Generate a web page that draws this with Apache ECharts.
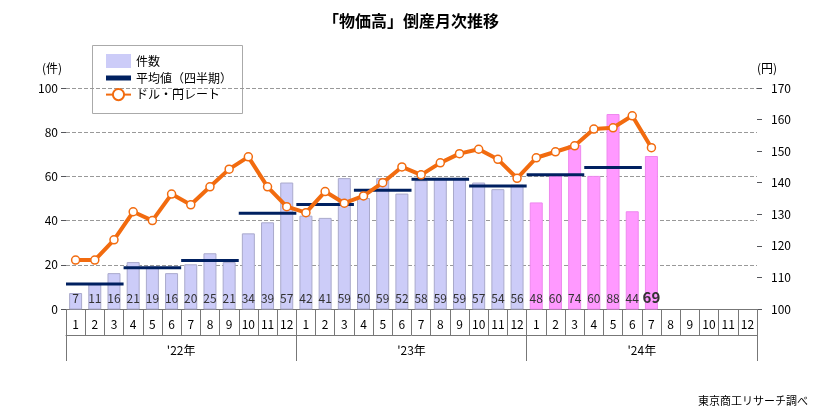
<!DOCTYPE html><html><head><meta charset="utf-8"><script src="https://cdn.jsdelivr.net/npm/echarts@6/dist/echarts.min.js"></script></head><body style="margin:0"><div id="c" style="width:822px;height:416px"></div><script>
const months=['1','2','3','4','5','6','7','8','9','10','11','12','1','2','3','4','5','6','7','8','9','10','11','12','1','2','3','4','5','6','7','8','9','10','11','12'];
const years=["'22年","'23年","'24年"];
const counts=[7,11,16,21,19,16,20,25,21,34,39,57,42,41,59,50,59,52,58,59,59,57,54,56,48,60,74,60,88,44,69];
const yen=[115.5,115.5,121.9,130.8,128,136.4,133,138.7,144.3,148.2,138.7,132.4,130.5,137.2,133.5,135.8,140,145,142.5,146.3,149.2,150.6,147.4,141.4,147.9,149.8,151.7,157,157.4,161.2,151.1];
const quarterAvg=[11.3,18.7,22,43.3,47.3,53.7,58.7,55.7,60.7,64];
const F='"Noto Sans CJK JP",sans-serif';
const barData=counts.map((v,i)=>({value:v,itemStyle:i>=24?{color:'#ff99ff',borderColor:'#ee88ee'}:{color:'#ccccf8',borderColor:'#aaaacc'},
 label:i===30?{fontWeight:'bold',fontSize:15,color:'#333'}:{}}));
const qData=quarterAvg.map((v,i)=>[i*3+1,v]);
const ch=echarts.init(document.getElementById('c'));
ch.setOption({
 title:{text:'「物価高」倒産月次推移',left:'center',top:8,textStyle:{fontFamily:F,fontSize:16,fontWeight:'bold',color:'#000'}},
 graphic:[{type:'text',right:14,bottom:10,style:{text:'東京商工リサーチ調べ',font:'11px '+F,fill:'#000'}},
  {type:'rect',left:92,top:45,shape:{width:150,height:68},style:{fill:'#fff',stroke:'#aaa'}}],
 legend:{left:100,top:49,orient:'vertical',itemGap:4,textStyle:{fontFamily:F,fontSize:12,color:'#000'},
  data:[{name:'件数',icon:'rect'},{name:'平均値（四半期）',icon:'path://M0,4H10V6H0Z'},{name:'ドル・円レート'}]},
 grid:{left:66,right:65,top:88,bottom:107},
 xAxis:[{type:'category',data:months,position:'bottom',axisLine:{lineStyle:{color:'#777'}},
   axisTick:{show:true,length:26,interval:0,lineStyle:{color:'#777'}},axisLabel:{interval:0,color:'#000',fontSize:12,margin:9,fontFamily:F}},
  {type:'category',data:years,position:'bottom',offset:26,axisLine:{show:true,lineStyle:{color:'#777'}},
   axisTick:{show:true,length:26,lineStyle:{color:'#777'}},axisLabel:{color:'#000',fontSize:12,margin:9,fontFamily:F}},
  {type:'value',min:0,max:36,show:false}],
 yAxis:[{type:'value',min:0,max:100,interval:20,name:'(件)',nameLocation:'end',nameGap:14,nameTextStyle:{align:'right',padding:[0,4,0,0],color:'#000',fontFamily:F},
   axisLabel:{color:'#000',fontFamily:F},axisLine:{show:false},splitLine:{lineStyle:{type:'dashed',color:'#999'}}},
  {type:'value',min:100,max:170,interval:10,name:'(円)',nameGap:14,nameTextStyle:{align:'left',color:'#000',fontFamily:F},
   axisLabel:{color:'#000',fontFamily:F,margin:14},axisLine:{show:false},splitLine:{show:false}}],
 series:[
  {name:'件数',type:'bar',data:barData,barWidth:12,itemStyle:{color:'#ccccf8'},
   label:{show:true,position:'insideBottom',color:'#333',fontSize:12,fontFamily:F}},
  {name:'平均値（四半期）',type:'custom',xAxisIndex:0,data:qData,itemStyle:{color:'#002060'},
   renderItem:(p,api)=>{const s=api.size([1,0])[0];const c=api.coord([api.value(0),api.value(1)]);
    return {type:'line',shape:{x1:c[0]-1.5*s,y1:c[1],x2:c[0]+1.5*s,y2:c[1]},style:{stroke:'#002060',lineWidth:3}};},z:3},
  {name:'ドル・円レート',type:'line',yAxisIndex:1,data:yen,symbol:'circle',symbolSize:8,
   lineStyle:{color:'#f26b0f',width:4},itemStyle:{color:'#fff',borderColor:'#f26b0f',borderWidth:1.5},z:4}
 ]});
</script></body></html>
